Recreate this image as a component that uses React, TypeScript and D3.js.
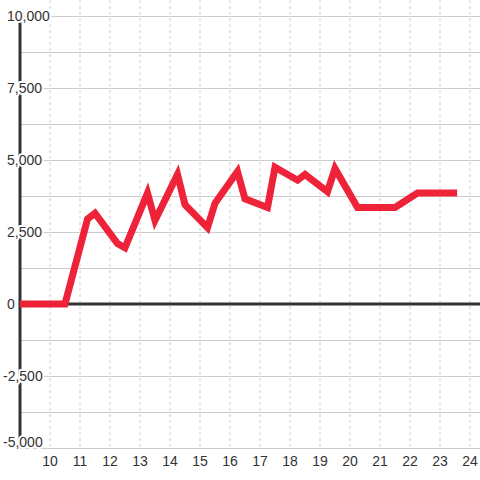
import React from "react";
import * as d3 from "d3";

const xValues = [9, 10.5, 11.25, 11.5, 12.25, 12.5, 13.25, 13.5, 14.25, 14.5, 15.25, 15.5, 16.25, 16.5, 17.25, 17.5, 18.25, 18.5, 19.25, 19.5, 20.25, 21.5, 22.25, 23.57];
const yValues = [0, 0, 2950, 3150, 2100, 1950, 3850, 2900, 4500, 3450, 2650, 3500, 4600, 3650, 3350, 4750, 4300, 4500, 3900, 4700, 3350, 3350, 3850, 3850];
const xTicks = [10, 11, 12, 13, 14, 15, 16, 17, 18, 19, 20, 21, 22, 23, 24];
const yGrid = [10000, 8750, 7500, 6250, 5000, 3750, 2500, 1250, 0, -1250, -2500, -3750, -5000];
const yLabels = [10000, 7500, 5000, 2500, 0, -2500, -5000];

const W = 480;
const H = 480;
const FONT = "'Liberation Sans', Arial, sans-serif";

export default function App() {
  const x = d3.scaleLinear().domain([9, 24 + 1 / 3]).range([20, 480]);
  const y = d3.scaleLinear().domain([-5000, 10000]).range([448, 16]);
  const fmt = d3.format(",");
  const pts = xValues.map((v, i) => [v, yValues[i]] as [number, number]);
  const line = d3
    .line<[number, number]>()
    .x((d) => x(d[0]))
    .y((d) => y(d[1]));

  return (
    <svg
      width={W}
      height={H}
      style={{ position: "absolute", left: 0, top: 0, background: "#fff", display: "block" }}
    >
      <rect x={0} y={0} width={W} height={H} fill="#fff" />
      {xTicks.map((t) => (
        <line
          key={"vx" + t}
          x1={x(t)}
          x2={x(t)}
          y1={0}
          y2={447}
          stroke="#cfcfcf"
          strokeWidth={1}
          strokeDasharray="3,3"
        />
      ))}
      {yGrid.map((g) => (
        <line
          key={"hg" + g}
          x1={20}
          x2={480}
          y1={Math.round(y(g)) + 0.5}
          y2={Math.round(y(g)) + 0.5}
          stroke="#cccccc"
          strokeWidth={1}
        />
      ))}
      <line x1={20} x2={20} y1={y(10000)} y2={y(-5000)} stroke="#333" strokeWidth={3} />
      <line x1={20} x2={480} y1={y(0)} y2={y(0)} stroke="#333" strokeWidth={3} />
      <path
        d={line(pts) || ""}
        fill="none"
        stroke="#ee2238"
        strokeWidth={7}
      />
      {yLabels.map((v) => (
        <text
          key={"yl" + v}
          x={v < 0 ? 3 : 7}
          y={v === -5000 ? y(v) - 1 : y(v) + 5}
          fontFamily={FONT}
          fontSize={14}
          fill="#333"
          stroke="#fff"
          strokeWidth={4}
          paintOrder="stroke"
          strokeLinejoin="round"
        >
          {fmt(v).replace("−", "-")}
        </text>
      ))}
      {xTicks.map((t) => (
        <text
          key={"xl" + t}
          x={x(t)}
          y={466}
          textAnchor="middle"
          fontFamily={FONT}
          fontSize={14}
          fill="#333"
        >
          {t}
        </text>
      ))}
    </svg>
  );
}
